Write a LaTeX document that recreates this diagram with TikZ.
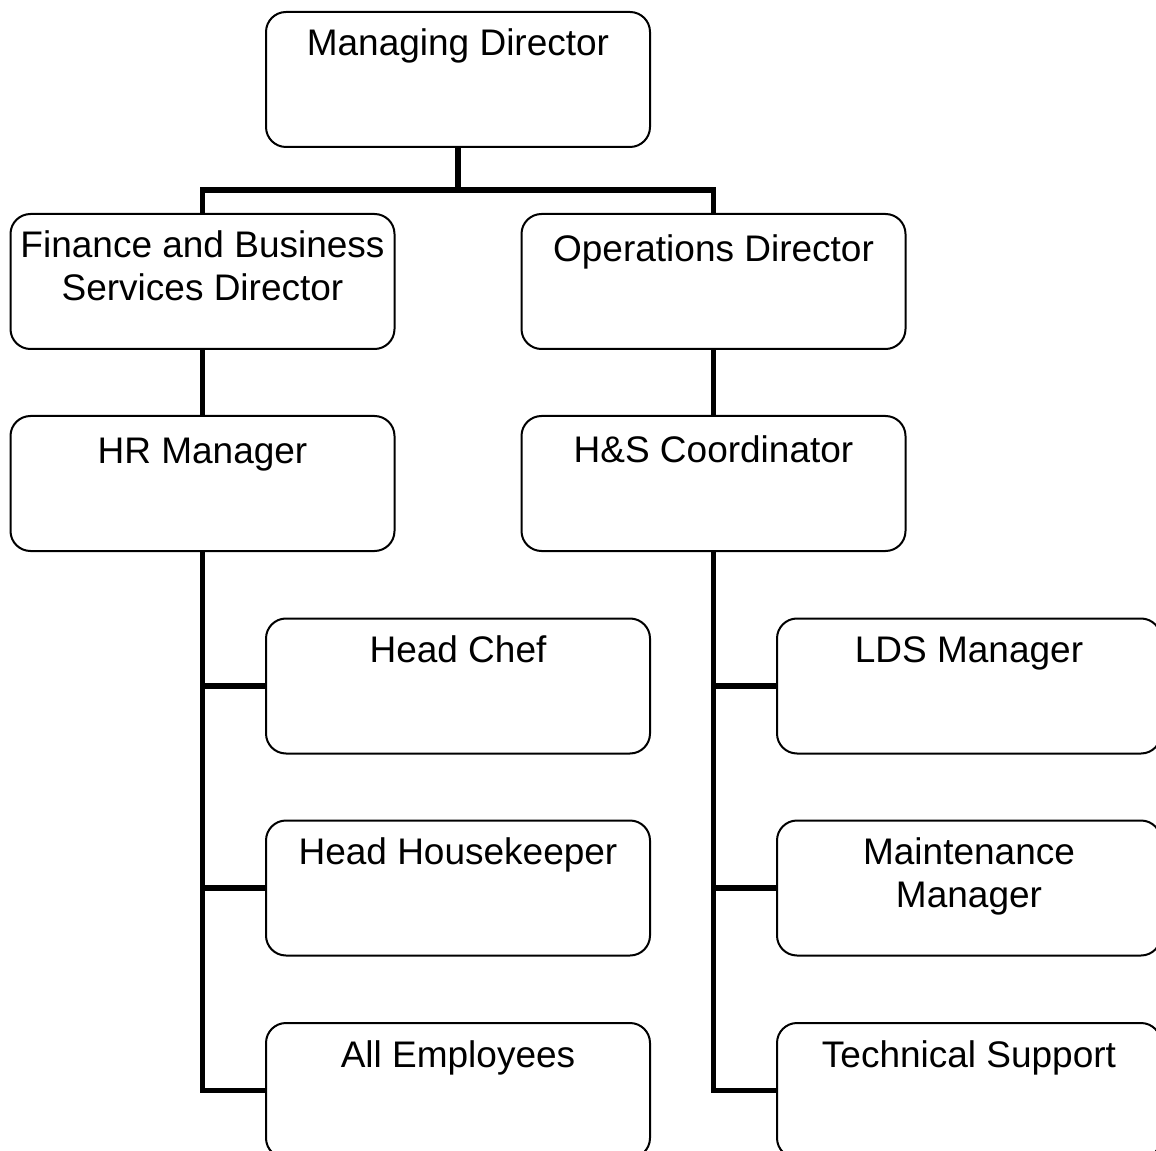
\documentclass[tikz,border=0pt]{standalone}
\usepackage{fontspec}
\setmainfont{Liberation Sans}
\newlength\pxu
\setlength\pxu{0.75pt}
\newcommand\bxt[2]{\parbox[c][135\pxu][t]{384\pxu}{\centering\fontsize{27.75pt}{32.25pt}\selectfont\rule{0pt}{#1\pxu}#2}}
\tikzset{
  orgbox/.style={draw, line width=1.5pt, rounded corners=15pt, inner sep=0pt, outer sep=0pt, fill=white},
  link/.style={line width=4.2pt, line join=miter}
}
\begin{document}
\begin{tikzpicture}[x=0.75pt, y=-0.75pt]
\useasboundingbox (0,0) rectangle (1156,1151);
\coordinate (bus) at (458,190);
\coordinate (busL) at (202.5,190);
\coordinate (busR) at (713.5,190);
\node[orgbox] (md) at (458,79.5) {\bxt{44}{Managing Director}};
\node[orgbox] (fin) at (202.5,281.5) {\bxt{44}{Finance and Business\\Services Director}};
\node[orgbox] (ops) at (713.5,281.5) {\bxt{48}{Operations Director}};
\node[orgbox] (hr) at (202.5,483.5) {\bxt{47}{HR Manager}};
\node[orgbox] (hs) at (713.5,483.5) {\bxt{46}{H\&S Coordinator}};
\node[orgbox] (chef) at (458,686) {\bxt{44}{Head Chef}};
\node[orgbox] (hk) at (458,888) {\bxt{44}{Head Housekeeper}};
\node[orgbox] (all) at (458,1090.5) {\bxt{44}{All Employees}};
\node[orgbox] (lds) at (969,686) {\bxt{44}{LDS Manager}};
\node[orgbox] (mm) at (969,888) {\bxt{44}{Maintenance\\Manager}};
\node[orgbox] (ts) at (969,1090.5) {\bxt{44}{Technical Support}};
% links
\draw[link] (md.south) -- (bus);
\draw[link] (fin.north) -- (busL) -- (busR) -- (ops.north);
\draw[link] (fin.south) -- (hr.north);
\draw[link] (ops.south) -- (hs.north);
\draw[link] (hr.south) |- (all.west);
\draw[link] (hr.south |- chef.west) -- (chef.west);
\draw[link] (hr.south |- hk.west) -- (hk.west);
\draw[link] (hs.south) |- (ts.west);
\draw[link] (hs.south |- lds.west) -- (lds.west);
\draw[link] (hs.south |- mm.west) -- (mm.west);
\end{tikzpicture}
\end{document}
